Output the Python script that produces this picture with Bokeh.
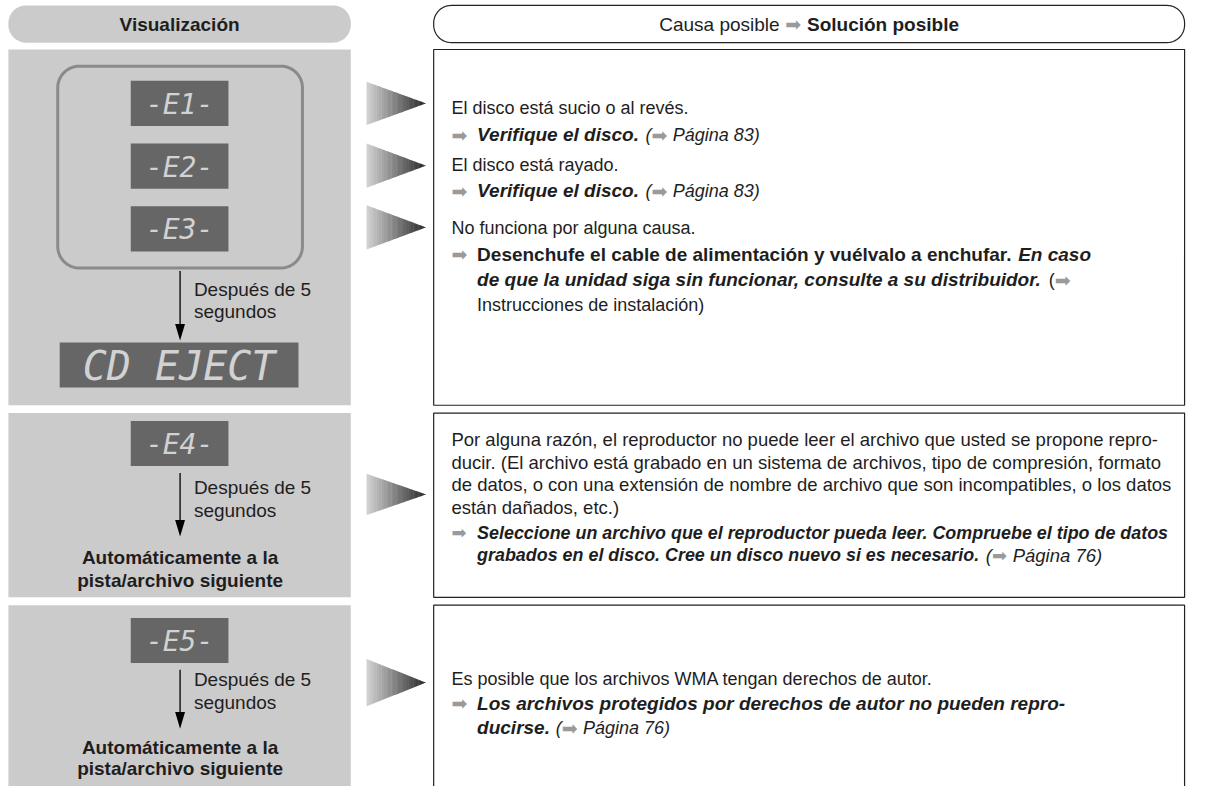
import numpy as np
from bokeh.plotting import figure
from bokeh.models import Range1d, ColumnDataSource
from bokeh.core.properties import value
from bokeh.embed import file_html
from bokeh.resources import INLINE

# ------------------------------------------------------------------ content
header_left = "Visualización"
header_cause = "Causa posible"
header_solution = "Solución posible"
arrow_sym = "➡"
display_codes = ["-E1-", "-E2-", "-E3-", "-E4-", "-E5-"]
eject_text = "CD EJECT"
delay_lines = ["Después de 5", "segundos"]
auto_lines = ["Automáticamente a la", "pista/archivo siguiente"]

box1_lines = [
    [("El disco está sucio o al revés.", "n")],
    [("➡", "a"), ("Verifique el disco.", "bi"), ("(", "i"), ("➡", "a"), ("Página 83)", "i")],
    [("El disco está rayado.", "n")],
    [("➡", "a"), ("Verifique el disco.", "bi"), ("(", "i"), ("➡", "a"), ("Página 83)", "i")],
    [("No funciona por alguna causa.", "n")],
    [("➡", "a"), ("Desenchufe el cable de alimentación y vuélvalo a enchufar.", "b"), ("En caso", "bi")],
    [("de que la unidad siga sin funcionar, consulte a su distribuidor.", "bi"), ("(", "n"), ("➡", "a")],
    [("Instrucciones de instalación)", "n")],
]
box2_lines = [
    [("Por alguna razón, el reproductor no puede leer el archivo que usted se propone repro-", "n")],
    [("ducir. (El archivo está grabado en un sistema de archivos, tipo de compresión, formato", "n")],
    [("de datos, o con una extensión de nombre de archivo que son incompatibles, o los datos", "n")],
    [("están dañados, etc.)", "n")],
    [("➡", "a"), ("Seleccione un archivo que el reproductor pueda leer. Compruebe el tipo de datos", "bi")],
    [("grabados en el disco. Cree un disco nuevo si es necesario.", "bi"), ("(", "i"), ("➡", "a"), ("Página 76)", "i")],
]
box3_lines = [
    [("Es posible que los archivos WMA tengan derechos de autor.", "n")],
    [("➡", "a"), ("Los archivos protegidos por derechos de autor no pueden repro-", "bi")],
    [("ducirse.", "bi"), ("(", "i"), ("➡", "a"), ("Página 76)", "i")],
]

# ------------------------------------------------------------------ layout (reference pixels, y downward)
W, H = 1206, 802
FW, FH = 1190, 786
SX = FW / W             # screen px per layout unit (horizontal)
panel_y = [(50, 413), (421, 609), (617, 812)]
left_x = (8, 355)
right_x = (439, 1200)
code_box_x = (132, 231)
code_box_y = [(82, 128), (146, 192), (210, 256), (429, 475), (630, 676)]
eject_box = (60, 302, 349, 395)
group_box = (58, 67, 306, 273)
tri_x = (371, 431)
tri_y = [(83, 127), (146, 191), (209, 254), (483, 525), (672, 720)]
down_x = 182
down_y = [(276, 347), (482, 547), (683, 743)]
delay_y = [(295, 317), (497, 520), (693, 716)]
auto_y = [(568, 592), (762, 784)]

TEXT_X = 457      # first column of right-hand text
INDENT_X = 483    # hanging indent after a leading arrow
box1_y = [110, 137, 168, 194, 232, 259, 285, 311]
box1_indent = [False, False, False, False, False, False, True, True]
box2_y = [448, 471, 494, 517, 543, 566]
box2_indent = [False] * 5 + [True]
box3_y = [692, 717, 742]
box3_indent = [False, False, True]

SANS = "Liberation Sans"
SYM = "DejaVu Sans"
PANEL = "#cbcbcb"
LCD = "#666666"
TXT = "#1e1e1e"
ARROW_GREY = "#9a9a9a"

# ------------------------------------------------------------------ text metrics (Arial / Liberation Sans)
_lc = "abcdefghijklmnopqrstuvwxyz"
_uc = "ABCDEFGHIJKLMNOPQRSTUVWXYZ"
REG = dict(zip(_lc, [556, 556, 500, 556, 556, 278, 556, 556, 222, 222, 500, 222, 833, 556, 556,
                     556, 556, 333, 500, 278, 556, 500, 722, 500, 500, 500]))
REG.update(zip(_uc, [667, 667, 722, 722, 667, 611, 778, 722, 278, 500, 667, 556, 833, 722, 778,
                     667, 778, 722, 667, 611, 722, 667, 944, 667, 667, 611]))
BLD = dict(zip(_lc, [556, 611, 556, 611, 556, 333, 611, 611, 278, 278, 556, 278, 889, 611, 611,
                     611, 611, 389, 556, 333, 611, 556, 778, 556, 556, 500]))
BLD.update(zip(_uc, [722, 722, 722, 722, 667, 611, 778, 722, 278, 556, 722, 611, 833, 722, 778,
                     667, 778, 722, 667, 611, 722, 667, 944, 667, 667, 611]))
for d in (REG, BLD):
    d.update({" ": 278, ".": 278, ",": 278, "(": 333, ")": 333, "-": 333, "/": 278, ":": 278})
    d.update({c: 556 for c in "0123456789"})
ACC = dict(zip("áéíóúñÁÉÍÓÚ", "aeiounAEIOU"))
ARROW_EM = 0.84


def text_w(s, style, size):
    """width in layout units of a text drawn at `size` screen pixels"""
    if style == "a":
        px = ARROW_EM * size
    else:
        tab = BLD if "b" in style else REG
        px = sum(tab.get(ACC.get(c, c), 556) for c in s) / 1000.0 * size
    return px / SX


p = figure(width=FW, height=FH, x_range=Range1d(0, W), y_range=Range1d(H, 0),
           x_axis_type=None, y_axis_type=None, output_backend="svg",
           toolbar_location=None, min_border=0)
p.grid.visible = False
p.outline_line_color = None
p.background_fill_color = "white"


def rrect(x0, y0, x1, y1, r, n=14):
    xs, ys = [], []
    for cx, cy, a0 in [(x1 - r, y0 + r, -90), (x1 - r, y1 - r, 0),
                       (x0 + r, y1 - r, 90), (x0 + r, y0 + r, 180)]:
        t = np.radians(np.linspace(a0, a0 + 90, n))
        xs.extend(cx + r * np.cos(t))
        ys.extend(cy + r * np.sin(t))
    return xs, ys


# header pills
xs, ys = rrect(left_x[0], 5, left_x[1], 43, 18)
p.patch(xs, ys, fill_color=PANEL, line_color=None)
xs, ys = rrect(right_x[0], 5, right_x[1], 43, 18)
p.patch(xs, ys, fill_color="white", line_color="#222222", line_width=1.2)

# left panels and right boxes
p.quad(left=[left_x[0]] * 3, right=[left_x[1]] * 3,
       top=[a for a, b in panel_y], bottom=[b for a, b in panel_y],
       fill_color=PANEL, line_color=None)
p.quad(left=[right_x[0]] * 3, right=[right_x[1]] * 3,
       top=[a for a, b in panel_y], bottom=[b for a, b in panel_y],
       fill_color=None, line_color="#222222", line_width=1.2)

# group rounded outline
xs, ys = rrect(*group_box, 22)
p.patch(xs, ys, fill_color=None, line_color="#8a8a8a", line_width=3)

# LCD boxes
p.quad(left=[code_box_x[0]] * 5, right=[code_box_x[1]] * 5,
       top=[a for a, b in code_box_y], bottom=[b for a, b in code_box_y],
       fill_color=LCD, line_color=None)
p.quad(left=[eject_box[0]], right=[eject_box[1]], top=[eject_box[2]], bottom=[eject_box[3]],
       fill_color=LCD, line_color=None)
p.text(x=[(code_box_x[0] + code_box_x[1]) / 2] * 5, y=[(a + b) / 2 + 1 for a, b in code_box_y],
       text=display_codes, text_font=value("DejaVu Sans Mono"), text_font_size="28px",
       text_font_style="italic", text_color="#d2d2d2", text_align="center", text_baseline="middle")
p.text(x=[(eject_box[0] + eject_box[1]) / 2], y=[(eject_box[2] + eject_box[3]) / 2 + 1],
       text=[eject_text], text_font=value("DejaVu Sans Mono"), text_font_size="40px",
       text_font_style="italic", text_color="#d2d2d2", text_align="center", text_baseline="middle")

# gradient triangles
N = 24
gx = np.linspace(tri_x[0], tri_x[1], N + 1)
for (t0, t1) in tri_y:
    mid = (t0 + t1) / 2
    half = (t1 - t0) / 2
    pxs, pys, cols = [], [], []
    for k in range(N):
        xa, xb = gx[k], gx[k + 1]
        fa = 1 - (xa - tri_x[0]) / (tri_x[1] - tri_x[0])
        fb = 1 - (xb - tri_x[0]) / (tri_x[1] - tri_x[0])
        pxs.append([xa, xb + 0.4, xb + 0.4, xa])
        pys.append([mid - half * fa, mid - half * fb, mid + half * fb, mid + half * fa])
        g = int(round(212 - (212 - 40) * (k + 0.5) / N))
        cols.append("#%02x%02x%02x" % (g, g, g))
    p.patches(pxs, pys, fill_color=cols, line_color=None)

# down arrows
for (a, b) in down_y:
    p.segment(x0=[down_x], y0=[a], x1=[down_x], y1=[b - 14], line_color="black", line_width=1.3)
p.patches([[down_x - 5, down_x + 5, down_x] for a, b in down_y],
          [[b - 17, b - 17, b] for a, b in down_y], fill_color="black", line_color=None)

# left texts
p.text(x=[(left_x[0] + left_x[1]) / 2], y=[24], text=[header_left], text_font=value(SANS),
       text_font_size="19px", text_font_style="bold", text_color=TXT,
       text_align="center", text_baseline="middle")
for (a, b) in delay_y:
    p.text(x=[196, 196], y=[a, b], text=delay_lines, text_font=value(SANS),
           text_font_size="19px", text_color=TXT, text_baseline="middle")
for (a, b) in auto_y:
    p.text(x=[182, 182], y=[a, b], text=auto_lines, text_font=value(SANS),
           text_font_size="19px", text_font_style="bold", text_color=TXT,
           text_align="center", text_baseline="middle")

STYLE = {"n": "normal", "b": "bold", "i": "italic", "bi": "bold italic"}
groups = {}


def put(x, y, txt, st, size):
    key = (st, round(size, 2))
    g = groups.setdefault(key, {"x": [], "y": [], "text": []})
    g["x"].append(x)
    g["y"].append(y)
    g["text"].append(txt)


def layout_line(segs, x0, y, sizes, indent):
    x = INDENT_X if indent else x0
    prev = None
    for i, (txt, st) in enumerate(segs):
        size = sizes[st]
        if prev is not None:
            pt, pst = prev
            if pst == "a" and i == 1 and segs[0][1] == "a":
                x = max(x + 0.278 * sizes["n"] / SX, INDENT_X)
            elif not pt.endswith("("):
                x += 0.3 * sizes[pst if pst != "a" else "n"] / SX
        put(x, y, txt, st, size)
        x += text_w(txt, st, size)
        prev = (txt, st)
    return x


# right header (centred in its pill)
hs = {"n": 19, "b": 19, "a": 19}
hsegs = [(header_cause, "n"), (arrow_sym, "a"), (header_solution, "b")]
tot = sum(text_w(t, s, hs[s]) for t, s in hsegs) + 2 * 0.3 * 19 / SX
layout_line(hsegs, (right_x[0] + right_x[1]) / 2 - tot / 2, 24, hs, False)

# box 1 and box 3
s13 = {"n": 18, "i": 18, "b": 19, "bi": 19, "a": 19}
for segs, y, ind in zip(box1_lines, box1_y, box1_indent):
    layout_line(segs, TEXT_X, y, s13, ind)
for segs, y, ind in zip(box3_lines, box3_y, box3_indent):
    layout_line(segs, TEXT_X, y, s13, ind)

# box 2: sizes chosen so the long lines span the box width
reg_em = max(text_w(s[0][0], "n", 1) for s in box2_lines[:3])
bi_em = text_w(box2_lines[4][1][0], "bi", 1)
s2 = {"n": min(18.5, (1186 - TEXT_X) / reg_em),
      "bi": min(19.0, (1186 - INDENT_X) / bi_em), "a": 18}
s2["i"] = s2["n"]
for segs, y, ind in zip(box2_lines, box2_y, box2_indent):
    layout_line(segs, TEXT_X, y, s2, ind)

for (st, size), d in groups.items():
    src = ColumnDataSource(d)
    if st == "a":
        p.text(x="x", y="y", text="text", source=src, text_font=value(SYM),
               text_font_size="%.1fpx" % size, text_color=ARROW_GREY, text_baseline="middle")
    else:
        p.text(x="x", y="y", text="text", source=src, text_font=value(SANS),
               text_font_size="%.1fpx" % size, text_font_style=STYLE[st],
               text_color=TXT, text_baseline="middle")

open("out.html", "w").write(file_html(p, INLINE))
